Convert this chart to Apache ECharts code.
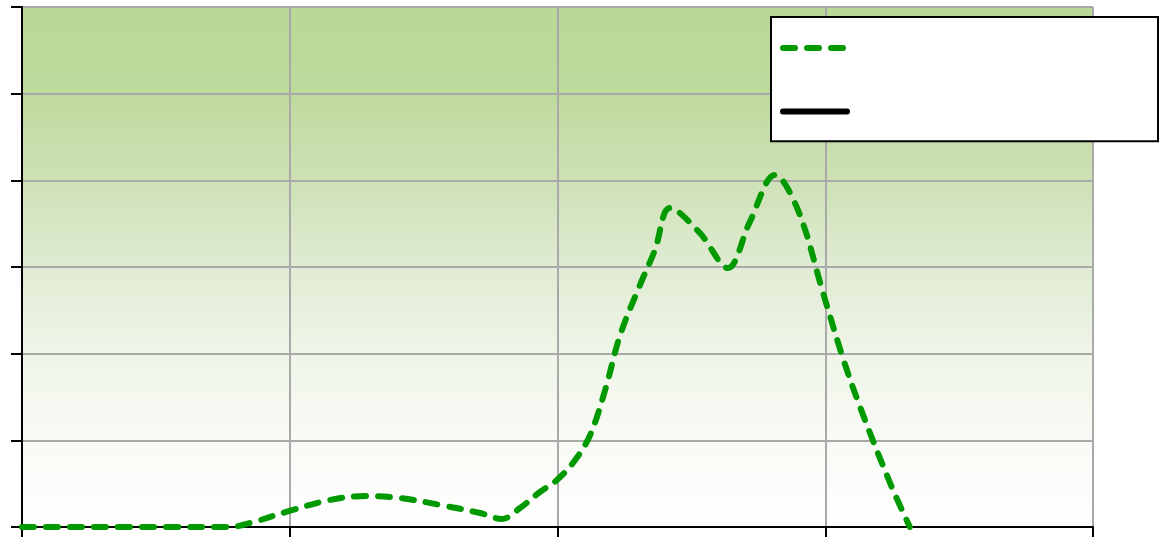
<!DOCTYPE html>
<html>
<head>
<meta charset="utf-8">
<script src="https://cdn.jsdelivr.net/npm/echarts@6/dist/echarts.min.js"></script>
<style>
  html, body { margin: 0; padding: 0; background: #ffffff; }
  #chart { width: 1163px; height: 537px; }
</style>
</head>
<body>
<div id="chart"></div>
<script>
// Distribution curve: x positions and heights
const xValues = [0, 3.88, 4.26, 4.99, 5.75, 6.44, 7.06, 7.81, 8.55, 8.96, 9.30, 9.67, 9.99,
  10.33, 10.61, 10.89, 11.17, 11.54, 11.82, 12.10, 12.66, 13.18, 13.59, 14.06, 14.49, 14.96,
  15.33, 15.65, 16.21, 16.58];
const curveValues = [0, 0, 0.46, 1.85, 3.12, 3.58, 3.35, 2.54, 1.62, 0.92, 2.19, 4.04, 5.42,
  7.73, 10.62, 15.81, 22.15, 27.92, 31.96, 36.81, 33.92, 29.88, 35.19, 40.62, 36.58, 27.0,
  19.5, 13.85, 5.08, 0];
const referenceValues = [];
const seriesNames = ['Observed', 'Reference'];

const xAxisRange = { min: 0, max: 20, interval: 5 };
const yAxisRange = { min: 0, max: 60, interval: 10 };

const chart = echarts.init(document.getElementById('chart'));

const curveData = xValues.map((x, i) => [x, curveValues[i]]);

const greenLine = { color: '#009900', width: 6, type: [12, 12], cap: 'round', join: 'round' };
const blackLine = { color: '#000000', width: 6, type: 'solid', cap: 'round', join: 'round' };

chart.setOption({
  animation: false,
  backgroundColor: '#ffffff',
  grid: {
    left: 22, top: 7, right: 70, bottom: 10,
    show: true,
    borderWidth: 0,
    backgroundColor: {
      type: 'linear', x: 0, y: 0, x2: 0, y2: 1,
      colorStops: [
        { offset: 0, color: '#bbd898' },
        { offset: 0.15, color: '#bdd99b' },
        { offset: 0.33, color: '#cde1b5' },
        { offset: 0.5, color: '#e0ebd3' },
        { offset: 0.67, color: '#eff5e8' },
        { offset: 0.83, color: '#f8faf5' },
        { offset: 1, color: '#ffffff' }
      ]
    }
  },
  legend: {
    orient: 'vertical',
    left: 771, top: 17,
    padding: [24, 308, 24, 9],
    itemGap: 51,
    itemWidth: 64, itemHeight: 14,
    backgroundColor: '#ffffff',
    borderColor: '#000000',
    borderWidth: 2,
    borderRadius: 0,
    itemStyle: { opacity: 0 },
    formatter: () => '',
    data: [
      { name: seriesNames[0], itemStyle: { opacity: 0 }, lineStyle: greenLine },
      { name: seriesNames[1], itemStyle: { opacity: 0 }, lineStyle: blackLine }
    ]
  },
  xAxis: {
    type: 'value',
    min: xAxisRange.min, max: xAxisRange.max, interval: xAxisRange.interval,
    axisLine: { show: true, onZero: false, lineStyle: { color: '#000000', width: 2 } },
    axisTick: { show: true, inside: false, length: 10, lineStyle: { color: '#000000', width: 2 } },
    axisLabel: { show: false },
    splitLine: { show: true, lineStyle: { color: '#a9a9a9', width: 2 } }
  },
  yAxis: {
    type: 'value',
    min: yAxisRange.min, max: yAxisRange.max, interval: yAxisRange.interval,
    axisLine: { show: true, onZero: false, lineStyle: { color: '#000000', width: 2 } },
    axisTick: { show: true, inside: false, length: 11, lineStyle: { color: '#000000', width: 2 } },
    axisLabel: { show: false },
    splitLine: { show: true, lineStyle: { color: '#a9a9a9', width: 2 } }
  },
  series: [
    {
      name: seriesNames[0],
      type: 'line',
      data: curveData,
      smooth: 0.35,
      symbol: 'none',
      z: 5,
      lineStyle: greenLine,
      itemStyle: { color: '#009900' }
    },
    {
      name: seriesNames[1],
      type: 'line',
      data: referenceValues,
      symbol: 'none',
      lineStyle: blackLine,
      itemStyle: { color: '#000000' }
    }
  ]
});
</script>
</body>
</html>
